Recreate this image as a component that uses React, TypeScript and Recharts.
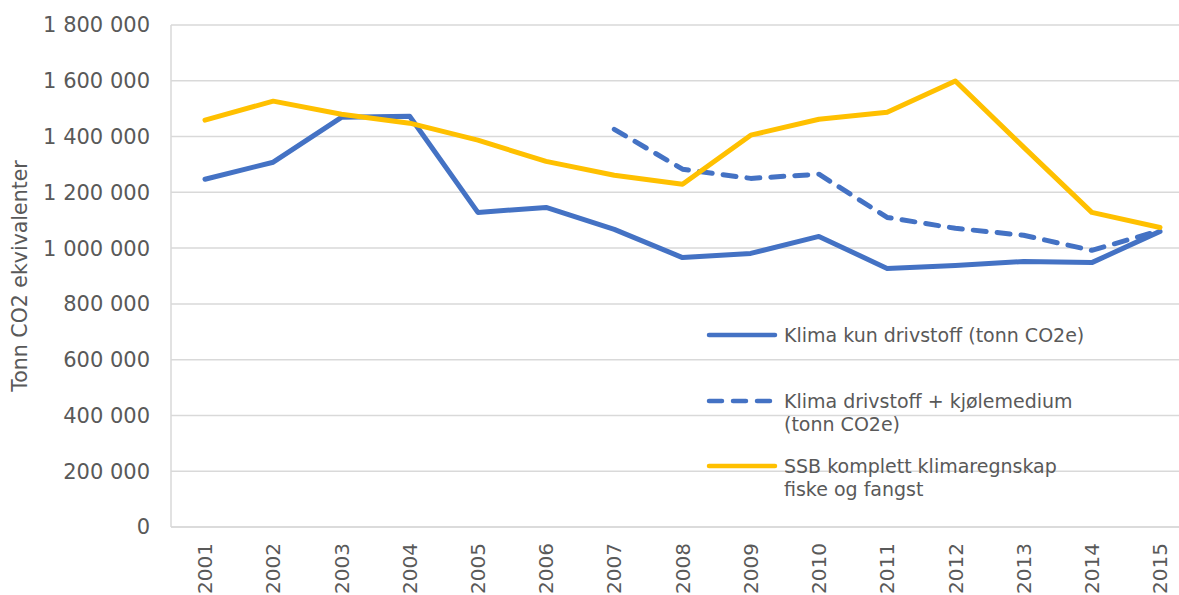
import React from 'react';
import { LineChart, Line, XAxis, YAxis, CartesianGrid, Legend } from 'recharts';

const years = ['2001', '2002', '2003', '2004', '2005', '2006', '2007', '2008', '2009', '2010', '2011', '2012', '2013', '2014', '2015'];
const klimaKun = [1247000, 1308000, 1469000, 1473000, 1128000, 1146000, 1067000, 966000, 981000, 1042000, 927000, 938000, 952000, 948000, 1060000];
const klimaKjole = [null, null, null, null, null, null, 1426000, 1283000, 1250000, 1265000, 1110000, 1071000, 1046000, 992000, 1063000];
const ssb = [1459000, 1527000, 1480000, 1448000, 1387000, 1311000, 1261000, 1229000, 1405000, 1462000, 1487000, 1599000, 1362000, 1128000, 1074000];
const yTicks = [0, 200000, 400000, 600000, 800000, 1000000, 1200000, 1400000, 1600000, 1800000];
const yLabel = 'Tonn CO2 ekvivalenter';
const seriesNames = ['Klima kun drivstoff (tonn CO2e)', 'Klima drivstoff + kjølemedium (tonn CO2e)', 'SSB komplett klimaregnskap fiske og fangst'];
const legendLines = [
  ['Klima kun drivstoff (tonn CO2e)'],
  ['Klima drivstoff + kjølemedium', '(tonn CO2e)'],
  ['SSB komplett klimaregnskap', 'fiske og fangst'],
];

const BLUE = '#4472C4';
const YELLOW = '#FFC000';
const TEXT = '#595959';
const GRID = '#D9D9D9';
const FONT = '"DejaVu Sans", Verdana, sans-serif';

const data = years.map((y, i) => ({ year: y, kun: klimaKun[i], kjole: klimaKjole[i], ssb: ssb[i] }));

const fmt = (v: number) => String(v).replace(/\B(?=(\d{3})+(?!\d))/g, ' ');

const XTick = (props: any) => {
  const { x, y, payload } = props;
  return (
    <text x={x} y={y} transform={`rotate(-90, ${x}, ${y})`} textAnchor="end" dy="0.36em" fill={TEXT} fontSize={20} fontFamily={FONT}>
      {payload.value}
    </text>
  );
};

const YLab = (props: any) => {
  const vb = props.viewBox || { x: 0, y: 0, width: 0, height: 0 };
  const x = vb.x + 20;
  const y = vb.y + vb.height / 2;
  return (
    <text x={x} y={y} transform={`rotate(-90, ${x}, ${y})`} textAnchor="middle" dy="0.36em" fill={TEXT} fontSize={20.5} fontFamily={FONT}>
      {yLabel}
    </text>
  );
};

const LegendContent = () => {
  const items = [
    { color: BLUE, dash: undefined as string | undefined },
    { color: BLUE, dash: '13 11' },
    { color: YELLOW, dash: undefined as string | undefined },
  ];
  return (
    <div style={{ position: 'relative', width: 1179, height: 595 }}>
      {items.map((it, i) => (
        <div key={i} style={{ position: 'absolute', left: 705, top: 323 + i * 65.5, width: 420 }}>
          <svg width={76} height={24} style={{ position: 'absolute', left: 0, top: 0 }}>
            <line x1={4} y1={12} x2={70} y2={12} stroke={it.color} strokeWidth={4.5} strokeLinecap="round" strokeDasharray={it.dash} />
          </svg>
          <div style={{ position: 'absolute', left: 79, top: 1, fontFamily: FONT, fontSize: 19, lineHeight: '23px', color: TEXT, whiteSpace: 'nowrap' }}>
            {legendLines[i].map((l, j) => (
              <div key={j}>{l}</div>
            ))}
          </div>
        </div>
      ))}
    </div>
  );
};

export default function App() {
  return (
    <div style={{ position: 'absolute', left: 0, top: 0, width: 1179, height: 595, overflow: 'hidden', background: '#fff' }}>
      <LineChart width={1215} height={595} data={data} margin={{ top: 25, right: 21, left: 0, bottom: 0 }}>
        <CartesianGrid vertical={false} stroke={GRID} strokeWidth={1.5} />
        <XAxis
          dataKey="year"
          height={68}
          padding={{ left: 34, right: 34 }}
          axisLine={{ stroke: GRID, strokeWidth: 1.5 }}
          tickLine={false}
          tickSize={0}
          tickMargin={16}
          interval={0}
          tick={<XTick />}
        />
        <YAxis
          width={171}
          domain={[0, 1800000]}
          ticks={yTicks}
          interval={0}
          tickFormatter={fmt}
          axisLine={{ stroke: GRID, strokeWidth: 1.5 }}
          tickLine={false}
          tickSize={0}
          tickMargin={21}
          tick={{ fill: TEXT, fontSize: 21, fontFamily: FONT }}
          label={<YLab />}
        />
        <Legend
          layout="vertical"
          align="center"
          verticalAlign="middle"
          content={<LegendContent />}
          wrapperStyle={{ position: 'absolute', left: 0, top: 0, width: 1179, height: 595, pointerEvents: 'none' }}
        />
        <Line name={seriesNames[0]} dataKey="kun" stroke={BLUE} strokeWidth={5} dot={false} strokeLinecap="round" strokeLinejoin="round" isAnimationActive={false} />
        <Line name={seriesNames[1]} dataKey="kjole" stroke={BLUE} strokeWidth={5} strokeDasharray="13 11" dot={false} strokeLinecap="round" strokeLinejoin="round" isAnimationActive={false} />
        <Line name={seriesNames[2]} dataKey="ssb" stroke={YELLOW} strokeWidth={5} dot={false} strokeLinecap="round" strokeLinejoin="round" isAnimationActive={false} />
      </LineChart>
    </div>
  );
}
